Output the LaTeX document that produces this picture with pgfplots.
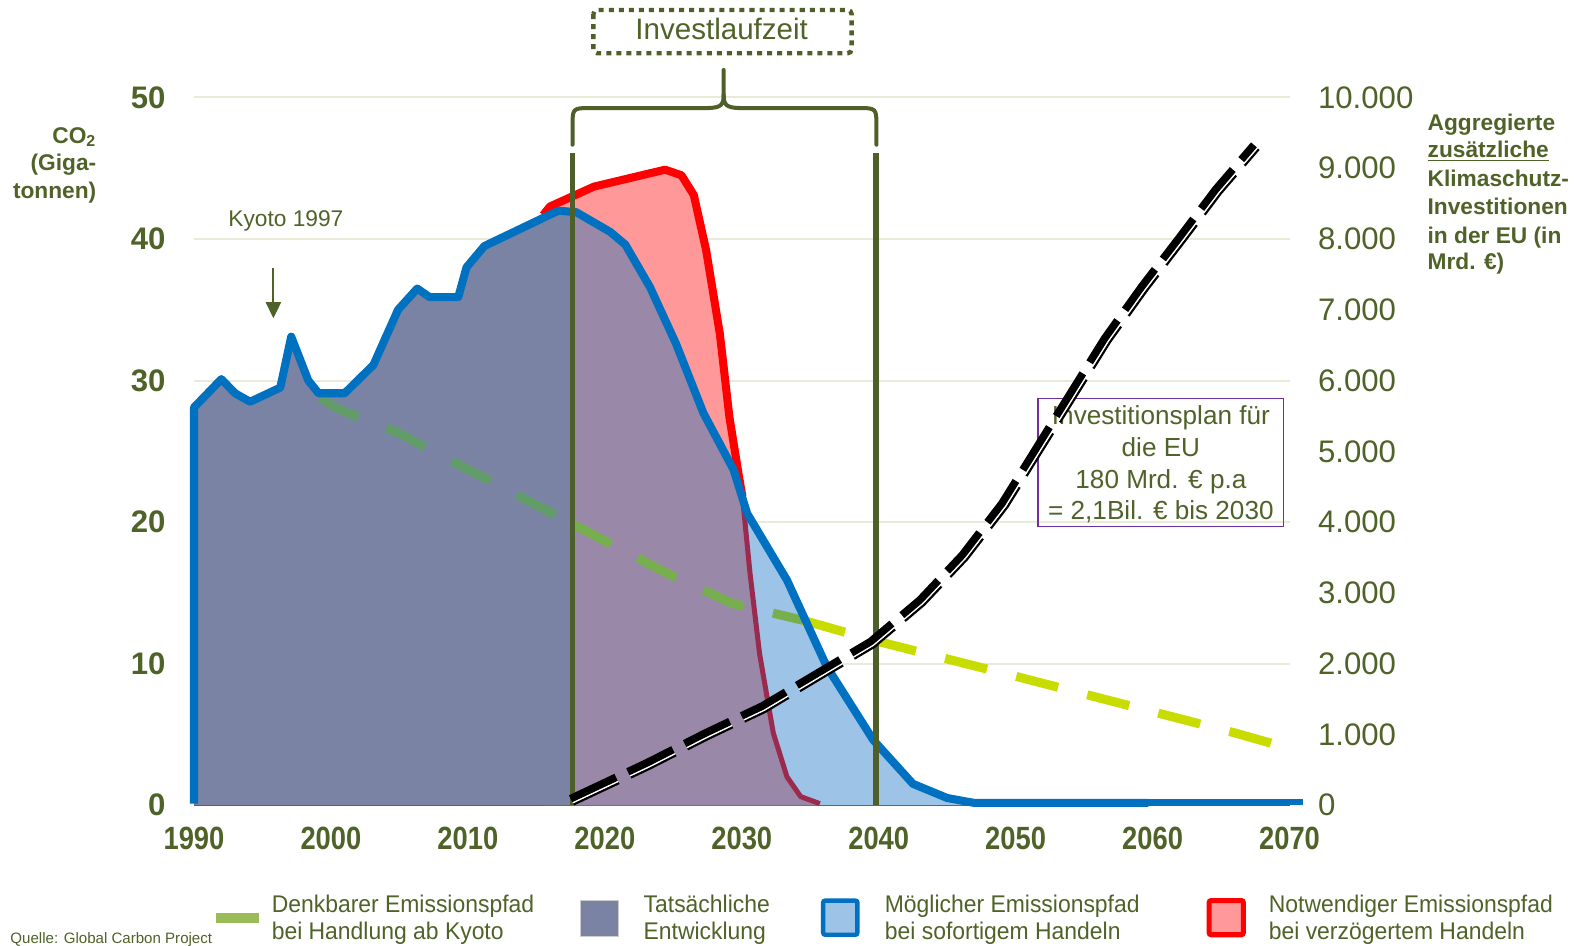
\documentclass[border=0pt]{standalone}
\usepackage{fontspec}
\setmainfont{Liberation Sans}
\newfontfamily\narrowfont[FakeStretch=0.85]{Liberation Sans}
\newfontfamily\legfont[FakeStretch=0.95]{Liberation Sans}
\usepackage{pgfplots}
\pgfplotsset{compat=1.18}
\usetikzlibrary{arrows.meta}
\definecolor{olive}{HTML}{4F6228}
\definecolor{olivel}{HTML}{4F5F2A}
\definecolor{gridc}{HTML}{EAEAD8}
\definecolor{myblue}{HTML}{0070C0}
\definecolor{lightblue}{HTML}{9DC3E6}
\definecolor{greyblue}{HTML}{7A83A3}
\definecolor{purplefill}{HTML}{9A88A8}
\definecolor{pinkfill}{HTML}{FF9999}
\definecolor{redline}{HTML}{FF0000}
\definecolor{crimson}{HTML}{9B2B4E}
\definecolor{greenA}{HTML}{629C68}
\definecolor{greenB}{HTML}{77AF4E}
\definecolor{yellowgreen}{HTML}{C8DC00}
\definecolor{leggreen}{HTML}{9BBB59}
\definecolor{boxpurple}{HTML}{7030A0}
\newcommand{\PX}[2]{({(#1)*0.5pt},{(941-(#2))*0.5pt})}
% investment curve (right axis, Mrd. EUR) and its two companion strokes
\pgfplotstableread{
year value
2017.5 90
2023.1 600
2027.3 1014
2031.5 1400
2035.5 1862
2039.4 2310
2043.0 2898
2046.1 3534
2049.0 4264
2051.5 5043
2054.0 5820
2056.5 6597
2059.2 7327
2062.0 8033
2064.6 8700
2067.4 9330
}\investmain
\pgfplotstableread{
year value
2017.72 10
2023.32 520
2027.52 934
2031.72 1320
2035.72 1782
2039.70 2240
2043.32 2832
2046.46 3476
2049.39 4212
2051.90 4995
2054.40 5772
2056.90 6549
2059.59 7275
2062.39 7981
2064.99 8648
2067.75 9270
}\investthin
\pgfplotstableread{
year value
2017.66 34
2023.26 544
2027.46 958
2031.66 1344
2035.66 1806
2039.61 2261
2043.22 2852
2046.35 3493
2049.27 4227
2051.78 5009
2054.28 5786
2056.78 6563
2059.47 7290
2062.27 7996
2064.87 8663
2067.65 9288
}\investgap
\begin{document}
\begin{tikzpicture}
\path[use as bounding box] (0,0) rectangle (784pt,470.5pt);
\begin{axis}[
  at={(96.5pt,70pt)}, anchor=south west,
  scale only axis, width=545pt, height=352pt,
  xmin=1990, xmax=2070, ymin=0, ymax=50,
  clip=false,
  axis lines*=left,
  x axis line style={draw=myblue, line width=0.8pt, -},
  y axis line style={draw=none},
  major tick length=0pt,
  xtick={1990,2000,...,2070},
  xticklabels={1990,2000,2010,2020,2030,2040,2050,2060,2070},
  ytick={0,10,...,50},
  yticklabels={0,10,20,30,40,50},
  xticklabel style={font=\narrowfont\bfseries\fontsize{16}{17}\selectfont, text=olive, inner sep=0pt, anchor=north, yshift=-10.5pt},
  yticklabel style={font=\bfseries\fontsize{15.5}{16}\selectfont, text=olive, inner sep=0pt, anchor=east, xshift=-14pt},
  ymajorgrids,
  major grid style={draw=gridc, line width=1pt},
]
% light blue area (possible path)
\addplot[draw=none, fill=lightblue] coordinates {(2017.65,0) (2017.65,42.0) (2017.9,41.9) (2020.4,40.5) (2021.5,39.6) (2023.3,36.6) (2025.2,32.6) (2027.2,27.7) (2029.4,23.7) (2030.4,20.6) (2033.3,15.9) (2036.2,9.8) (2039.6,4.6) (2042.5,1.5) (2045.0,0.5) (2047,0)};
% pink area (delayed path)
\addplot[draw=none, fill=pinkfill] coordinates {(2015.5,0) (2015.5,41.7) (2016.0,42.3) (2019.2,43.7) (2024.4,44.9) (2025.6,44.5) (2026.5,43.1) (2027.4,39.2) (2028.4,33.3) (2029.1,27.4) (2029.8,23.2) (2030.05,21.8) (2030.6,16.4) (2031.3,10.7) (2032.3,5.1) (2033.3,2.0) (2034.3,0.6) (2035.7,0)};
% overlap area
\addplot[draw=none, fill=purplefill] coordinates {(2017.65,0) (2017.65,42.0) (2017.9,41.9) (2020.4,40.5) (2021.5,39.6) (2023.3,36.6) (2025.2,32.6) (2027.2,27.7) (2029.4,23.7) (2030.05,21.8) (2030.6,16.4) (2031.3,10.7) (2032.3,5.1) (2033.3,2.0) (2034.3,0.6) (2035.7,0)};
% actual development
\addplot[draw=none, fill=greyblue] coordinates {(1990,0) (1990,28.1) (1992,30.1) (1993,29.1) (1994.1,28.5) (1996.3,29.5) (1997.1,33.1) (1998.35,30.0) (1999.1,29.1) (2001,29.1) (2003.1,31.1) (2004.9,35.0) (2006.3,36.5) (2007.2,35.9) (2009.3,35.9) (2009.9,38.0) (2011.2,39.5) (2016.6,42.0) (2017.65,42.0) (2017.65,0)};
% green dashed path
\addplot[greenA, line width=4.5pt, dash pattern=on 21.5pt off 15pt] coordinates {(1999.2,28.8) (2000.5,28.0) (2004.9,26.3) (2017.65,19.86)};
\addplot[greenB, line width=4.5pt, dash pattern=on 21.5pt off 15pt] coordinates {(2017.65,19.86) (2024.5,16.4) (2029.3,14.25) (2034.5,13.05)};
\addplot[yellowgreen, line width=4.5pt, dash pattern=on 21.5pt off 15pt] coordinates {(2034.5,13.05) (2039.8,11.6) (2050,9.1) (2060.8,6.4) (2066,5.1) (2070,4.0)};
% red line
\addplot[redline, line width=4pt, line join=round] coordinates {(2015.5,41.7) (2016.0,42.3) (2019.2,43.7) (2024.4,44.9) (2025.6,44.5) (2026.5,43.1) (2027.4,39.2) (2028.4,33.3) (2029.1,27.4) (2029.8,23.2) (2030.05,21.8)};
\addplot[crimson, line width=2.5pt, line join=round] coordinates {(2030.05,21.8) (2030.6,16.4) (2031.3,10.7) (2032.3,5.1) (2033.3,2.0) (2034.3,0.6) (2035.7,0.1)};
% blue line
\addplot[myblue, line width=4pt, line join=round] coordinates {(1990,0.1) (1990,28.1) (1992,30.1) (1993,29.1) (1994.1,28.5) (1996.3,29.5) (1997.1,33.1) (1998.35,30.0) (1999.1,29.1) (2001,29.1) (2003.1,31.1) (2004.9,35.0) (2006.3,36.5) (2007.2,35.9) (2009.3,35.9) (2009.9,38.0) (2011.2,39.5) (2016.6,42.0) (2017.9,41.9) (2020.4,40.5) (2021.5,39.6) (2023.3,36.6) (2025.2,32.6) (2027.2,27.7) (2029.4,23.7) (2030.4,20.6) (2033.3,15.9) (2036.2,9.8) (2039.6,4.6) (2042.5,1.5) (2045.0,0.5) (2047,0.15) (2059.7,0.15)};
\addplot[myblue, line width=3pt] coordinates {(2059.7,0.25) (2071,0.25)};
% investment period lines
\draw[olivel, line width=2.8pt] (axis cs:2017.65,0) -- (axis cs:2017.65,46.1);
\draw[olivel, line width=2.8pt] (axis cs:2039.8,0) -- (axis cs:2039.8,46.1);
\end{axis}
% info box (under the black line)
\draw[boxpurple, line width=0.8pt] \PX{1033}{396.3} rectangle \PX{1276.8}{524};
\begin{scope}[every node/.style={anchor=base, font=\fontsize{13}{15}\selectfont, text=olive, inner sep=0pt}]
\node at \PX{1155}{422} {Investitionsplan für};
\node at \PX{1155}{454} {die EU};
\node at \PX{1155}{486} {180 Mrd. € p.a};
\node at \PX{1155}{517} {= 2,1Bil. € bis 2030};
\end{scope}
\begin{axis}[
  at={(96.5pt,70pt)}, anchor=south west,
  scale only axis, width=545pt, height=352pt,
  xmin=1990, xmax=2070, ymin=0, ymax=10000,
  clip=false,
  axis y line*=right, axis x line=none,
  y axis line style={draw=none},
  major tick length=0pt,
  scaled y ticks=false,
  xtick=\empty,
  ytick={0,1000,...,10000},
  yticklabels={0,1.000,2.000,3.000,4.000,5.000,6.000,7.000,8.000,9.000,10.000},
  yticklabel style={font=\fontsize{15.5}{16}\selectfont, text=olive, inner sep=0pt, anchor=west, xshift=14pt},
]
\addplot[black, line width=1.2pt, dash pattern=on 25pt off 6.5pt] table[x=year, y=value] {\investthin};
\addplot[white, line width=0.8pt, dash pattern=on 25pt off 6.5pt] table[x=year, y=value] {\investgap};
\addplot[black, line width=3.8pt, dash pattern=on 25pt off 6.5pt] table[x=year, y=value] {\investmain};
\end{axis}
% brace and title box
\draw[olivel, line width=2pt, line cap=round] \PX{569.6}{144} -- \PX{569.6}{126} .. controls \PX{569.6}{107.5} .. \PX{588}{107.5} -- \PX{703}{107.5} .. controls \PX{718}{107.5} and \PX{720}{104} .. \PX{720}{94} -- \PX{720}{69.6};
\draw[olivel, line width=2pt, line cap=round] \PX{872}{144} -- \PX{872}{126} .. controls \PX{872}{107.5} .. \PX{853}{107.5} -- \PX{737}{107.5} .. controls \PX{722}{107.5} and \PX{720}{104} .. \PX{720}{94};
\draw[olivel, line width=2.2pt, dash pattern=on 2.5pt off 2.5pt, rounded corners=2pt] \PX{590.3}{10} rectangle \PX{847.3}{53};
\node[anchor=base, font=\fontsize{14.7}{16}\selectfont, text=olive, inner sep=0pt] at \PX{718}{39.8} {Investlaufzeit};
% Kyoto
\node[anchor=base, font=\fontsize{11.3}{13}\selectfont, text=olive, inner sep=0pt] at \PX{284.4}{225.5} {Kyoto 1997};
\draw[olive, line width=1pt, -{Triangle[length=8pt, width=7.5pt]}] \PX{272}{267} -- \PX{272}{316.7};
% left axis title
\begin{scope}[every node/.style={anchor=base east, font=\bfseries\fontsize{11.3}{13}\selectfont, text=olive, inner sep=0pt}]
\node at \PX{96.2}{142.6} {CO\textsubscript{2}};
\node at \PX{96.2}{169.8} {(Giga-};
\node at \PX{96.2}{197.3} {tonnen)};
\end{scope}
% right axis title
\begin{scope}[every node/.style={anchor=base west, font=\bfseries\fontsize{11.3}{13}\selectfont, text=olive, inner sep=0pt}]
\node at \PX{1420}{129.4} {Aggregierte};
\node at \PX{1420}{156.5} {\underline{zusätzliche}};
\node at \PX{1420}{185.7} {Klimaschutz-};
\node at \PX{1420}{213.9} {Investitionen};
\node at \PX{1420}{242.1} {in der EU (in};
\node at \PX{1420}{268} {Mrd. €)};
\end{scope}
% legend
\draw[leggreen, line width=5pt] \PX{215}{913} -- \PX{258}{913};
\draw[draw=gray!40, fill=greyblue, line width=0.5pt] \PX{578}{896} rectangle \PX{615}{932};
\draw[myblue, fill=lightblue, line width=2.2pt, rounded corners=1pt] \PX{819}{896} rectangle \PX{853}{930};
\draw[redline, fill=pinkfill, line width=2.5pt, rounded corners=1pt] \PX{1203}{896} rectangle \PX{1237}{930};
\begin{scope}[every node/.style={anchor=base west, font=\legfont\fontsize{12}{14}\selectfont, text=olive, inner sep=0pt}]
\node at \PX{270}{908} {Denkbarer Emissionspfad};
\node at \PX{270}{935} {bei Handlung ab Kyoto};
\node at \PX{640}{908} {Tatsächliche};
\node at \PX{640}{935} {Entwicklung};
\node at \PX{880}{908} {Möglicher Emissionspfad};
\node at \PX{880}{935} {bei sofortigem Handeln};
\node at \PX{1262}{908} {Notwendiger Emissionspfad};
\node at \PX{1262}{935} {bei verzögertem Handeln};
\end{scope}
\node[anchor=base west, font=\fontsize{7.5}{9}\selectfont, text=olive, inner sep=0pt] at \PX{10}{938.5} {Quelle: Global Carbon Project};
\end{tikzpicture}
\end{document}
